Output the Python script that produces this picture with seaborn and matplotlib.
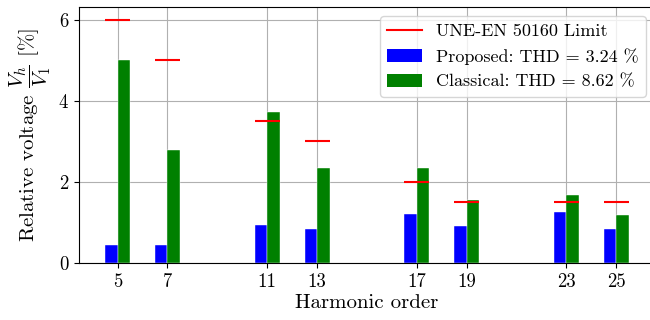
import matplotlib
matplotlib.use("Agg")
import matplotlib.pyplot as plt
import seaborn as sns
import pandas as pd
import numpy as np
from matplotlib.lines import Line2D
from matplotlib.patches import Patch

harmonics = [5, 7, 11, 13, 17, 19, 23, 25]
proposed = [0.44, 0.44, 0.94, 0.84, 1.22, 0.93, 1.26, 0.85]
classical = [5.0, 2.8, 3.73, 2.35, 2.35, 1.55, 1.68, 1.18]
limits = [6.0, 5.0, 3.5, 3.0, 2.0, 1.5, 1.5, 1.5]
series_names = ["Proposed: THD = 3.24 %", "Classical: THD = 8.62 %"]
limit_name = "UNE-EN 50160 Limit"
colors = ["blue", "green"]

plt.rcParams.update({
    "font.family": "cmr10",
    "mathtext.fontset": "cm",
    "axes.formatter.use_mathtext": True,
    "axes.unicode_minus": False,
    "font.size": 13,
})

df = pd.DataFrame({
    "harmonic": harmonics * 2,
    "value": proposed + classical,
    "method": [series_names[0]] * len(harmonics) + [series_names[1]] * len(harmonics),
})

fig = plt.figure(figsize=(6.5, 3.2), dpi=100)
ax = fig.add_axes([0.1215, 0.177, 0.886, 0.8])
ax.set_axisbelow(True)
ax.grid(True, color="#b0b0b0", linewidth=0.8)

sns.barplot(data=df, x="harmonic", y="value", hue="method", native_scale=True,
            dodge=True, width=0.5, palette=colors, saturation=1.0,
            edgecolor="white", linewidth=0.3, legend=False, ax=ax, errorbar=None)

h = np.array(harmonics, dtype=float)
ax.hlines(limits, h - 0.5, h + 0.5, colors="red", linewidth=1.5, zorder=3)

ax.set_xticks(harmonics)
ax.set_xticklabels([str(v) for v in harmonics])
ax.set_yticks([0, 2, 4, 6])
ax.tick_params(labelsize=13.5)
ax.set_xlim(3.45, 26.55)
ax.set_ylim(0, 6.3)
ax.set_xlabel("Harmonic order", fontsize=15, labelpad=2)
ax.set_ylabel(r"Relative voltage $\dfrac{V_h}{V_1}$ [%]", fontsize=15, labelpad=4)
for s in ax.spines.values():
    s.set_color("black")

handles = [Line2D([0], [0], color="red", linewidth=1.5),
           Patch(facecolor=colors[0]), Patch(facecolor=colors[1])]
ax.legend(handles, [limit_name] + series_names, loc="upper right", fontsize=13,
          handlelength=1.9)

fig.savefig("out.png", dpi=100)
